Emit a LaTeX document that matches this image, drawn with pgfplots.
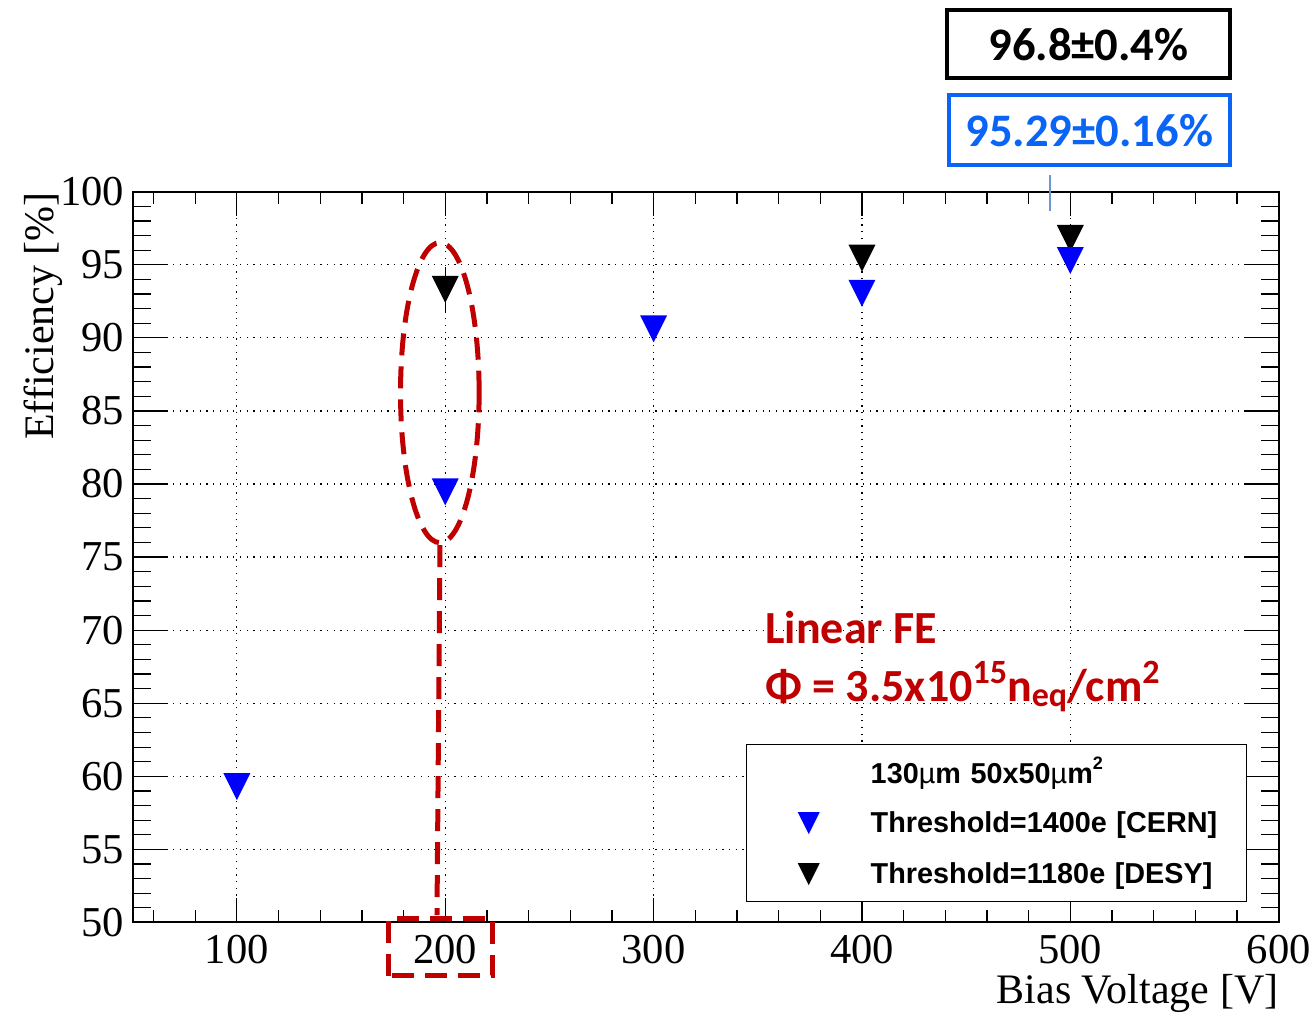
\documentclass[border=0pt]{standalone}
\usepackage{pgfplots}
\pgfplotsset{compat=1.18}
\usepackage{fontspec}
\setmainfont{Liberation Serif}
\newfontfamily\helv{Liberation Sans}
\newfontfamily\calibri{Carlito}

\definecolor{cernblue}{RGB}{0,0,255}
\definecolor{ellred}{RGB}{192,0,0}
\definecolor{boxblue}{RGB}{10,100,245}
\definecolor{leader}{RGB}{110,150,210}

% downward triangle, centred on its bounding box
\pgfdeclareplotmark{tridown}{%
  \pgfpathmoveto{\pgfqpoint{-\pgfplotmarksize}{\pgfplotmarksize}}%
  \pgfpathlineto{\pgfqpoint{\pgfplotmarksize}{\pgfplotmarksize}}%
  \pgfpathlineto{\pgfqpoint{0pt}{-\pgfplotmarksize}}%
  \pgfpathclose
  \pgfusepathqfill}

\tikzset{hl/.style={ellred, line width=2.5pt, dash pattern=on 11pt off 5.5pt}}

\begin{document}
\begin{tikzpicture}
\useasboundingbox (-66.35pt,-46.25pt) rectangle (589.15pt,461.25pt);
\begin{axis}[
  at={(0pt,0pt)}, anchor=south west,
  scale only axis, width=573pt, height=365.4pt,
  xmin=50, xmax=600, ymin=50, ymax=100,
  xtick={100,200,...,600}, ytick={50,55,...,100},
  minor xtick={60,80,...,580}, minor ytick={51,52,...,99},
  tick align=inside,
  xtick style={/pgfplots/major tick length=12pt, /pgfplots/minor tick length=6.25pt},
  ytick style={/pgfplots/major tick length=17.5pt, /pgfplots/minor tick length=9pt},
  every tick/.append style={black, line width=0.6pt},
  axis line style={line width=1pt},
  grid=major,
  major grid style={black, line width=0.6pt, dash pattern=on 0.6pt off 2.75pt},
  /pgf/number format/assume math mode=true,
  tick label style={font=\fontsize{21.3}{21.3}\selectfont},
  xticklabel style={inner sep=0pt, yshift=-6.25pt},
  yticklabel style={inner sep=0pt, xshift=-4pt},
  xlabel={Bias Voltage [V]},
  ylabel={Efficiency [\%]},
  label style={font=\fontsize{21}{21}\selectfont},
  xlabel style={at={(axis description cs:1,-0.1103)}, anchor=base east, inner sep=0pt},
  ylabel style={at={(axis description cs:-0.0695,1.0)}, anchor=base east, inner sep=0pt},
  clip=false,
  legend style={
    at={(0.5352,0.2443)}, anchor=north west,
    draw=black, line width=0.7pt, fill=white,
    inner xsep=0pt, inner ysep=1pt,
    column sep=25.5pt, row sep=0pt,
    nodes={inner sep=0pt, text width=188pt, align=left, minimum height=25.5pt,
           font={\helv\bfseries\fontsize{14.4}{14.4}\selectfont}},
  },
  legend cell align=left,
  legend image code/.code={%
    \path[draw=none, fill=none] (0pt,-5.5pt) (36.5pt,5.5pt);
    \begin{scope}[#1]
      \pgftransformshift{\pgfqpoint{31pt}{0pt}}%
      \pgfsetplotmarksize{5.5pt}%
      \pgfuseplotmark{tridown}%
    \end{scope}},
]

% DESY, threshold 1180e
\addplot[forget plot, only marks, mark=tridown, mark size=6.75pt, color=black,
  error bars/.cd, y dir=both, y explicit,
  error bar style={line width=0.6pt, black},
  error mark options={mark size=2.75pt, line width=0.6pt, black}]
  coordinates {(200,93.31) +- (0,1.17) (400,95.45) +- (0,0) (500,96.8) +- (0,0.4)};

% CERN, threshold 1400e
\addplot[forget plot, only marks, mark=tridown, mark size=6.75pt, color=cernblue]
  coordinates {(100,59.29) (200,79.47) (300,90.61) (400,93.05) (500,95.29)};

\addlegendimage{empty legend}
\addlegendentry{130{\mdseries µ}m 50x50{\mdseries µ}m\raisebox{7pt}{\fontsize{9}{9}\selectfont 2}}
\addlegendimage{only marks, mark=tridown, color=cernblue}
\addlegendentry{Threshold=1400e [CERN]}
\addlegendimage{only marks, mark=tridown, color=black}
\addlegendentry{Threshold=1180e [DESY]}

% highlight of the 200 V point
\draw[hl] (axis cs:197.4,86.25) ellipse [x radius=19.65pt, y radius=75pt];
\draw[hl] (axis cs:197.48,75.82) -- (axis cs:196.04,50.51);
\draw[hl] (axis cs:172.77,46.35) rectangle (axis cs:222.68,50.27);

% annotation
\node[anchor=base west, inner sep=0pt, text=ellred,
  font={\calibri\bfseries\fontsize{23}{23}\selectfont}] at (axis cs:353.47,69.1) {Linear FE};
\node[anchor=base west, inner sep=0pt, text=ellred,
  font={\calibri\bfseries\fontsize{23}{23}\selectfont}] at (axis cs:353.47,65.1)
  {Φ = 3.5x10\raisebox{9pt}{\fontsize{17}{17}\selectfont 15}n\raisebox{-2.5pt}{\fontsize{17}{17}\selectfont eq}/cm\raisebox{9pt}{\fontsize{17}{17}\selectfont 2}};

% values at 500 V
\node[draw=black, line width=2pt, minimum width=141.5pt, minimum height=34pt, inner sep=0pt,
  font={\calibri\bfseries\fontsize{23.3}{23.3}\selectfont}] at (axis cs:508.7,110.09) {96.8±0.4\%};
\node[draw=boxblue, text=boxblue, line width=2pt, minimum width=140.5pt, minimum height=35pt, inner sep=0pt,
  font={\calibri\bfseries\fontsize{23.3}{23.3}\selectfont}] at (axis cs:509.1,104.21) {95.29±0.16\%};
\draw[leader, line width=0.6pt] (axis cs:490.25,101.13) -- (axis cs:490.25,98.69);

\end{axis}
\end{tikzpicture}
\end{document}
